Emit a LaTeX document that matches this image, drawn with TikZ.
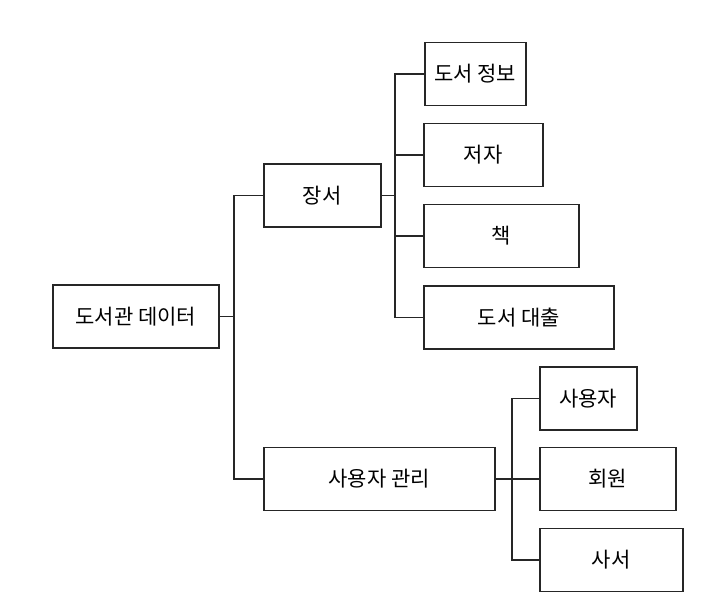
\documentclass[tikz,border=0pt]{standalone}
\usepackage{fontspec}
\setmainfont{Noto Sans CJK KR}
\begin{document}
\begin{tikzpicture}[x=1pt,y=-1pt,
  box/.style={draw=black!85, line width=1.5pt, rectangle, minimum height=63pt, inner sep=2pt,
    font=\fontsize{21}{24}\selectfont, anchor=west},
  link/.style={draw=black!85, line width=1.4pt}]
\useasboundingbox[fill=white] (0,0) rectangle (720,612);
% nodes
\node[box, minimum width=166pt] (lib) at (52,316.5) {도서관 데이터};
\node[box, minimum width=117pt] (jangseo) at (263,195.5) {장서};
\node[box, minimum width=101pt] (info) at (424,74) {도서 정보};
\node[box, minimum width=119pt] (author) at (423,155) {저자};
\node[box, minimum width=155pt] (book) at (423,236) {책};
\node[box, minimum width=190pt] (loan) at (423,317.5) {도서 대출};
\node[box, minimum width=231pt] (mgmt) at (263,479) {사용자 관리};
\node[box, minimum width=97pt] (user) at (539,398.5) {사용자};
\node[box, minimum width=136pt] (member) at (539,479) {회원};
\node[box, minimum width=143pt] (librarian) at (539,560) {사서};
% junctions
\coordinate (j1) at (234,316.5);
\coordinate (j2) at (395,195.5);
\coordinate (j3) at (512,479);
% connectors
\draw[link] (lib.east) -- (j1);
\draw[link] (j1) |- (jangseo.west);
\draw[link] (j1) |- (mgmt.west);
\draw[link] (jangseo.east) -- (j2);
\draw[link] (j2) |- (info.west);
\draw[link] (j2) |- (author.west);
\draw[link] (j2) |- (book.west);
\draw[link] (j2) |- (loan.west);
\draw[link] (mgmt.east) -- (j3);
\draw[link] (j3) |- (user.west);
\draw[link] (j3) |- (member.west);
\draw[link] (j3) |- (librarian.west);
\end{tikzpicture}
\end{document}
